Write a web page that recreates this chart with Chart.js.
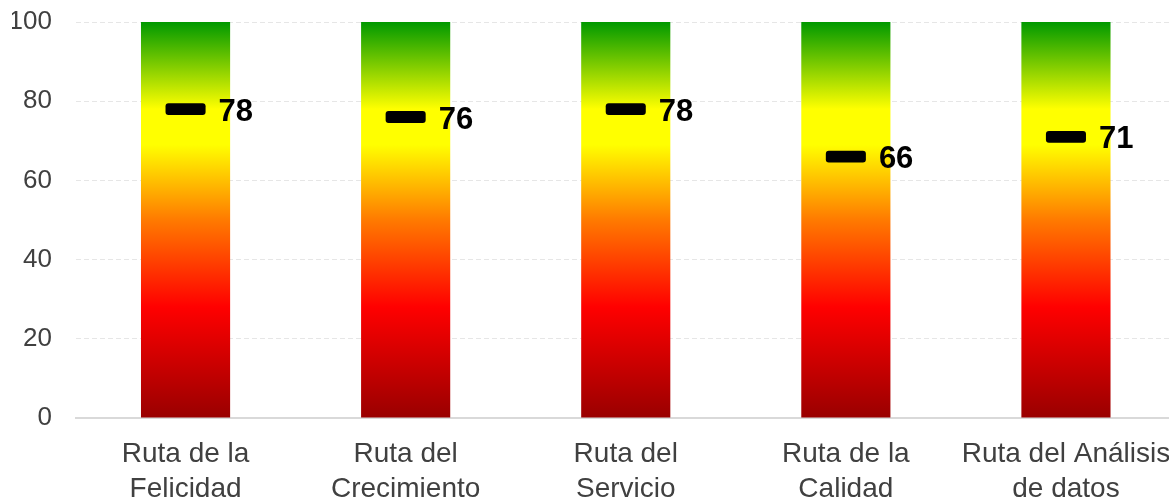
<!doctype html>
<html lang="es">
<head>
    <meta charset="UTF-8">
    <title>Rutas</title>
    <script src="https://cdn.jsdelivr.net/npm/chart.js"></script>
    <style>
        html, body { margin: 0; padding: 0; background: #fff; overflow: hidden; }
        #wrap { width: 1176px; height: 505px; position: relative; }
    </style>
</head>
<body>
<div id="wrap">
    <canvas id="rutasChart"></canvas>
</div>

<script>
    // datos del grafico
    const categorias = [
        ['Ruta de la', 'Felicidad'],
        ['Ruta del', 'Crecimiento'],
        ['Ruta del', 'Servicio'],
        ['Ruta de la', 'Calidad'],
        ['Ruta del Análisis', 'de datos']
    ];
    const puntajes = [78, 76, 78, 66, 71];
    const escalaMax = [100, 100, 100, 100, 100];
    const ticksY = [0, 20, 40, 60, 80, 100];

    const fuente = '"Liberation Sans", Arial, sans-serif';

    // degradado rojo -> amarillo -> verde segun el area del grafico
    function degradado(context) {
        const area = context.chart.chartArea;
        if (!area) return '#ff0000';
        const g = context.chart.ctx.createLinearGradient(0, area.bottom, 0, area.top);
        g.addColorStop(0, '#990000');
        g.addColorStop(0.28, '#ff0000');
        g.addColorStop(0.5, '#ff7a00');
        g.addColorStop(0.69, '#ffff00');
        g.addColorStop(0.78, '#ffff00');
        g.addColorStop(1, '#009900');
        return g;
    }

    // etiqueta del valor a la derecha de cada marca
    const etiquetas = {
        id: 'etiquetas',
        afterDatasetsDraw(chart) {
            const ctx = chart.ctx;
            const meta = chart.getDatasetMeta(0);
            const y = chart.scales.y;
            ctx.save();
            ctx.font = 'bold 31px ' + fuente;
            ctx.fillStyle = '#000';
            ctx.textAlign = 'left';
            ctx.textBaseline = 'middle';
            meta.data.forEach((el, i) => {
                ctx.fillText(String(puntajes[i]), el.x + el.width / 2 + 13, y.getPixelForValue(puntajes[i]) + 3);
            });
            ctx.restore();
        }
    };

    const ctx = document.getElementById('rutasChart').getContext('2d');
    new Chart(ctx, {
        type: 'bar',
        data: {
            labels: categorias,
            datasets: [
                {
                    label: 'Puntaje',
                    data: puntajes.map(v => [v - 1.5, v + 1.5]),
                    backgroundColor: '#000',
                    borderRadius: 3,
                    borderSkipped: false,
                    grouped: false,
                    order: 0,
                    barPercentage: 0.182,
                    categoryPercentage: 1
                },
                {
                    label: 'Escala',
                    data: escalaMax,
                    backgroundColor: degradado,
                    grouped: false,
                    order: 1,
                    barPercentage: 0.405,
                    categoryPercentage: 1
                }
            ]
        },
        options: {
            responsive: true,
            maintainAspectRatio: false,
            animation: false,
            layout: { padding: { top: 22, left: 12, right: 0, bottom: 0 } },
            plugins: {
                legend: { display: false },
                tooltip: { enabled: false }
            },
            scales: {
                x: {
                    afterFit: axis => {
                        axis.height = 87;
                        axis.paddingLeft = 0;
                        axis.paddingRight = 0;
                    },
                    grid: { display: false, drawTicks: false },
                    border: { display: true, color: '#d9d9d9', width: 2 },
                    ticks: {
                        color: '#404040',
                        padding: 19,
                        maxRotation: 0,
                        autoSkip: false,
                        font: { family: fuente, size: 28, lineHeight: 1.25 }
                    }
                },
                y: {
                    min: 0,
                    max: 100,
                    afterBuildTicks: axis => { axis.ticks = ticksY.map(v => ({ value: v })); },
                    afterFit: axis => {
                        axis.width = 63.5;
                        axis.paddingTop = 0;
                        axis.paddingBottom = 0;
                    },
                    grid: {
                        color: '#e6e6e6',
                        drawTicks: false
                    },
                    border: { display: false, dash: [5, 3] },
                    ticks: {
                        color: '#404040',
                        padding: 23.5,
                        font: { family: fuente, size: 26 }
                    }
                }
            }
        },
        plugins: [etiquetas]
    });
</script>
</body>
</html>
